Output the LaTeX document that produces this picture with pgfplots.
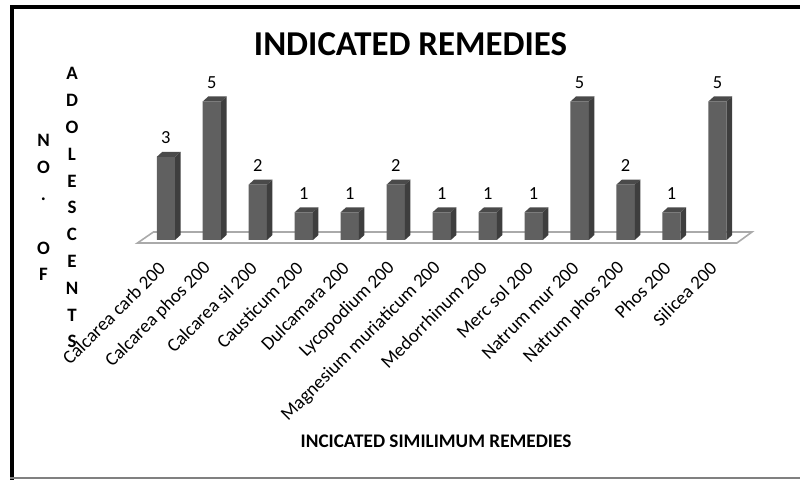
\documentclass[border=0pt]{standalone}
\usepackage{pgfplots}
\pgfplotsset{compat=1.18}
\usepackage{fontspec}
\setmainfont{Carlito}
\definecolor{frontc}{RGB}{96,96,96}
\definecolor{sidec}{RGB}{62,62,62}
\definecolor{topc}{RGB}{74,74,74}
\definecolor{floorc}{RGB}{170,170,170}
\pgfplotstableread{
x v
0 3
1 5
2 2
3 1
4 1
5 2
6 1
7 1
8 1
9 5
10 2
11 1
12 5
}\datatable
\pgfdeclareplotmark{sideface}{%
  \pgfmathsetmacro{\hpt}{\barval*27.7}%
  \pgfsetfillcolor{sidec}%
  \pgfpathmoveto{\pgfpoint{9.15bp}{0bp}}%
  \pgfpathlineto{\pgfpoint{14.65bp}{5bp}}%
  \pgfpathlineto{\pgfpoint{14.65bp}{5bp-\hpt bp}}%
  \pgfpathlineto{\pgfpoint{9.15bp}{-\hpt bp}}%
  \pgfpathclose
  \pgfusepathqfill
  \pgfsetfillcolor{topc}%
  \pgfpathmoveto{\pgfpoint{-9.15bp}{0bp}}%
  \pgfpathlineto{\pgfpoint{9.15bp}{0bp}}%
  \pgfpathlineto{\pgfpoint{14.65bp}{5bp}}%
  \pgfpathlineto{\pgfpoint{-3.65bp}{5bp}}%
  \pgfpathclose
  \pgfusepathqfill
}
\begin{document}
\begin{tikzpicture}
\useasboundingbox (0,0) rectangle (800bp,481bp);
\begin{axis}[
  x=45.97bp, y=27.7bp,
  xmin=-0.8, xmax=12.9, ymin=0, ymax=5.4,
  anchor=origin, at={(165.9bp,241bp)},
  clip=false,
  axis line style={draw=none},
  tick style={draw=none},
  ytick=\empty,
  xtick={0,...,12},
  xticklabels={Calcarea carb 200,Calcarea phos 200,Calcarea sil 200,Causticum 200,Dulcamara 200,Lycopodium 200,Magnesium muriaticum 200,Medorrhinum 200,Merc sol 200,Natrum mur 200,Natrum phos 200,Phos 200,Silicea 200},
  xticklabel style={font=\fontsize{19}{21}\selectfont, inner sep=0pt, xshift=-4bp, yshift=-25bp, rotate=45, anchor=east},
  /pgf/number format/assume math mode=true,
]
\addplot[draw=floorc, line width=1.6bp, fill=white] coordinates {(-0.62,-0.11) (-0.27,0.29) (12.75,0.29) (12.42,-0.11)} -- cycle;
\addplot[ybar, bar width=18.3bp, fill=frontc, draw=none,
  nodes near coords,
  every node near coord/.append style={font=\fontsize{18.5}{20}\selectfont, anchor=south, inner sep=0pt, yshift=13bp, text=black}]
  table[x=x, y=v] {\datatable};
\addplot[only marks, mark=sideface, visualization depends on={\thisrow{v}\as\barval}]
  table[x=x, y=v] {\datatable};
\end{axis}
\node[anchor=base, font=\bfseries\fontsize{35}{40}\selectfont] at (410.5bp,425bp) {INDICATED REMEDIES};
\node[anchor=base, font=\bfseries\fontsize{19.3}{22}\selectfont] at (436bp,34bp) {INCICATED SIMILIMUM REMEDIES};
\foreach \l [count=\i from 0] in {A,D,O,L,E,S,C,E,N,T,S}
  \node[anchor=base, inner sep=0pt, font=\bfseries\fontsize{19}{22}\selectfont] at (72bp,{401bp-\i*26.8bp}) {\l};
\foreach \l/\k in {N/0,O/1,./2,O/4,F/5}
  \node[anchor=base, inner sep=0pt, font=\bfseries\fontsize{19}{22}\selectfont] at (43.5bp,{334bp-\k*26.8bp}) {\l};
\draw[line width=4bp, black] (10bp,473.5bp) -- (800bp,473.5bp);
\draw[line width=4bp, black] (12bp,475.5bp) -- (12bp,1bp);
\draw[line width=2bp, gray] (10bp,3bp) -- (800bp,3bp);
\end{tikzpicture}
\end{document}
